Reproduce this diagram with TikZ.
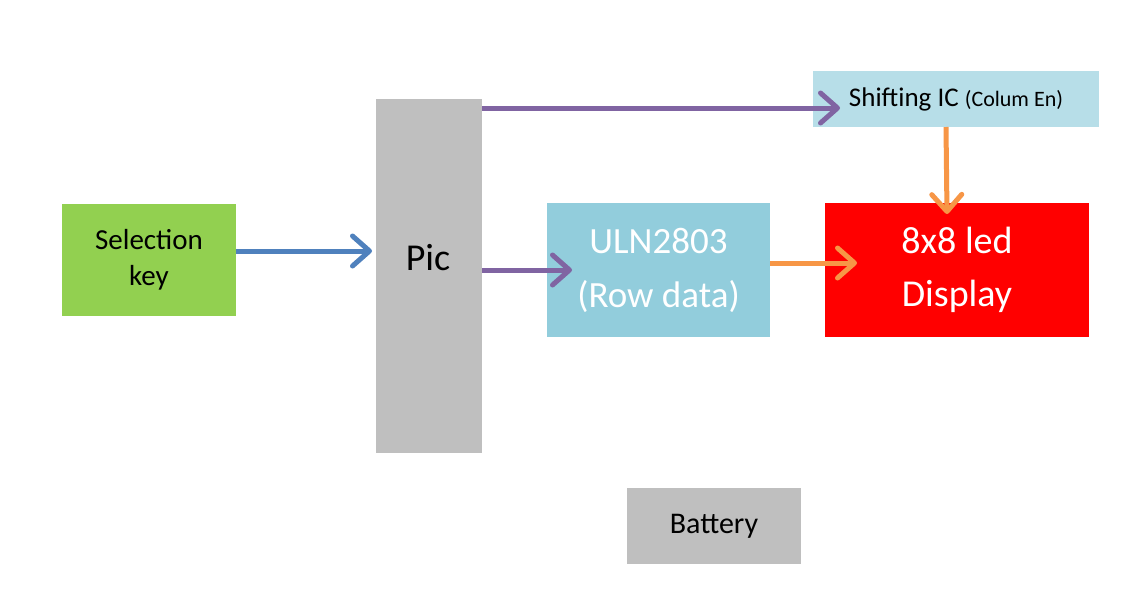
\documentclass[tikz,border=0pt]{standalone}
\usepackage{fontspec}
\setmainfont{Carlito}
\usetikzlibrary{arrows.meta}
\definecolor{keygreen}{HTML}{92D050}
\definecolor{picgray}{HTML}{BFBFBF}
\definecolor{shblue}{HTML}{B7DEE8}
\definecolor{ulnblue}{HTML}{92CDDC}
\definecolor{arrblue}{HTML}{4F81BD}
\definecolor{arrpurple}{HTML}{8064A2}
\definecolor{arrorange}{HTML}{F79646}
\tikzset{
  box/.style={rectangle, inner sep=0pt, outer sep=0pt, align=center},
  conn/.style={line width=5pt, -{Straight Barb[length=17pt,width=30pt,round]}},
}
\begin{document}
\begin{tikzpicture}[x=1pt,y=-1pt]
\useasboundingbox[fill=white] (0,0) rectangle (1148,600);
\node[box, fill=keygreen, minimum width=174pt, minimum height=112pt,
  font=\fontsize{29}{36}\selectfont] (key) at (149,260) {Selection\\key};
\node[box, fill=picgray, minimum width=106pt, minimum height=354pt] (pic) at (429,276) {};
\node[font=\fontsize{38}{40}\selectfont] (pictext) at (428,258) {Pic};
\node[box, fill=shblue, minimum width=286pt, minimum height=56pt] (sh) at (956,99)
  {\fontsize{27}{30}\selectfont Shifting IC {\fontsize{22}{26}\selectfont (Colum En)}};
\node[box, fill=ulnblue, minimum width=223pt, minimum height=134pt, text=white,
  font=\fontsize{37}{54}\selectfont] (uln) at (658.5,270) {ULN2803\\(Row data)};
\node[box, fill=red, minimum width=264pt, minimum height=134pt, text=white,
  font=\fontsize{38}{53}\selectfont] (disp) at (957,270) {8x8 led\\Display};
\node[box, fill=picgray, minimum width=174pt, minimum height=76pt,
  font=\fontsize{30}{34}\selectfont] (bat) at (714,526) {Battery};
\draw[conn, arrblue] ([yshift=9pt]key.east) -- ([xshift=-4pt,yshift=9pt]key.east -| pic.west);
\draw[conn, arrpurple] ([yshift=-9pt]pic.east |- sh.west) -- ([xshift=27pt,yshift=-9pt]sh.west);
\draw[conn, arrpurple] (pic.east |- uln.west) -- ([xshift=25pt]uln.west);
\draw[conn, arrorange] ([xshift=-10pt]sh.south) -- ([xshift=-10pt,yshift=-11pt]disp.north);
\draw[conn, arrorange] ([yshift=7pt]uln.east) -- ([xshift=32pt,yshift=7pt]uln.east -| disp.west);
\end{tikzpicture}
\end{document}
